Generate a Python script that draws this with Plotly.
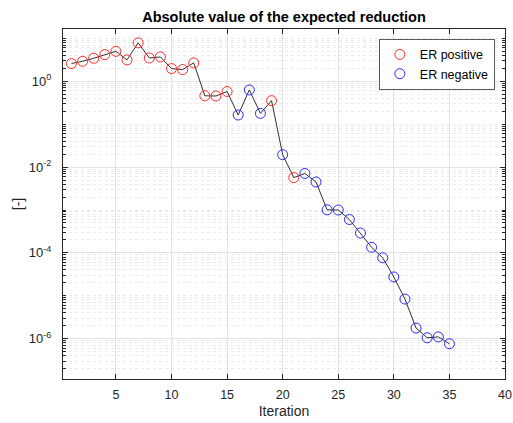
import plotly.graph_objects as go

# Iteration number and |expected reduction| per iteration
iterations = list(range(1, 36))
abs_er = [
    2.6, 2.93, 3.45, 4.2, 5.0, 3.16, 7.9, 3.5, 3.7, 1.98,
    1.88, 2.69, 0.46, 0.455, 0.58, 0.164, 0.63, 0.179, 0.354, 0.0195,
    0.0057, 0.0071, 0.0045, 0.00101, 0.001, 6.0e-4, 2.9e-4, 1.35e-4, 7.7e-5, 2.75e-5,
    8.4e-6, 1.77e-6, 1.05e-6, 1.1e-6, 7.6e-7,
]
# sign of the expected reduction: +1 positive, -1 negative
er_sign = [
    1, 1, 1, 1, 1, 1, 1, 1, 1, 1,
    1, 1, 1, 1, 1, -1, -1, -1, 1, -1,
    1, -1, -1, -1, -1, -1, -1, -1, -1, -1,
    -1, -1, -1, -1, -1,
]
# labelled decades on the y axis
y_tick_exponents = [-6, -4, -2, 0]

pos_x = [i for i, s in zip(iterations, er_sign) if s > 0]
pos_y = [v for v, s in zip(abs_er, er_sign) if s > 0]
neg_x = [i for i, s in zip(iterations, er_sign) if s < 0]
neg_y = [v for v, s in zip(abs_er, er_sign) if s < 0]

FONT = "Liberation Sans, Arial, Helvetica, sans-serif"
AX = "#262626"

fig = go.Figure()
fig.add_trace(go.Scatter(
    x=iterations, y=abs_er, mode="lines",
    line=dict(color="#1a1a1a", width=0.9), showlegend=False, hoverinfo="skip",
))
fig.add_trace(go.Scatter(
    x=pos_x, y=pos_y, mode="markers", name="ER positive",
    marker=dict(symbol="circle-open", size=10, color="#ff2a2a", line=dict(width=1)),
))
fig.add_trace(go.Scatter(
    x=neg_x, y=neg_y, mode="markers", name="ER negative",
    marker=dict(symbol="circle-open", size=10, color="#2a2aff", line=dict(width=1)),
))

fig.update_layout(
    width=513, height=423,
    margin=dict(l=63, r=8, t=29, b=44),
    paper_bgcolor="white", plot_bgcolor="white",
    font=dict(family=FONT, size=12, color=AX),
    title=dict(
        text="<b>Absolute value of the expected reduction</b>",
        x=(63 + 505) / 2 / 513, xanchor="center", y=1 - 17 / 423, yanchor="middle",
        font=dict(size=14.5, color="#000000"),
    ),
    legend=dict(
        x=0.977, xanchor="right", y=0.972, yanchor="top",
        bgcolor="white", bordercolor="#5a5a5a", borderwidth=1,
        font=dict(size=12.5, color="#000000"),
        itemwidth=30,
    ),
)

fig.update_xaxes(
    automargin=False,
    range=[0.24, 40], tick0=0, dtick=5,
    showline=True, linecolor=AX, linewidth=1, mirror="ticks",
    ticks="inside", ticklen=5, tickcolor=AX,
    ticklabelstandoff=4,
    showgrid=True, gridcolor="#e3e3e3", gridwidth=1,
    zeroline=False,
    tickfont=dict(size=12.5, color=AX),
    title=dict(text="Iteration", font=dict(size=14, color=AX), standoff=5),
)
fig.update_yaxes(
    automargin=False,
    type="log", range=[-6.94, 1.22],
    tickvals=[10.0 ** e for e in y_tick_exponents],
    ticktext=[f"10<sup>{e}</sup>" for e in y_tick_exponents],
    showline=True, linecolor=AX, linewidth=1, mirror="ticks",
    ticks="inside", ticklen=5, tickcolor=AX,
    ticklabelstandoff=8,
    showgrid=True, gridcolor="#e3e3e3", gridwidth=1,
    zeroline=False,
    tickfont=dict(size=13, color=AX),
    minor=dict(
        dtick="D1", ticks="inside", ticklen=3, tickcolor=AX,
        showgrid=True, gridcolor="#ebebeb", griddash="dot", gridwidth=1,
    ),
    title=dict(text="[-]", font=dict(size=14, color=AX), standoff=1),
)

fig.write_html("out.html")
